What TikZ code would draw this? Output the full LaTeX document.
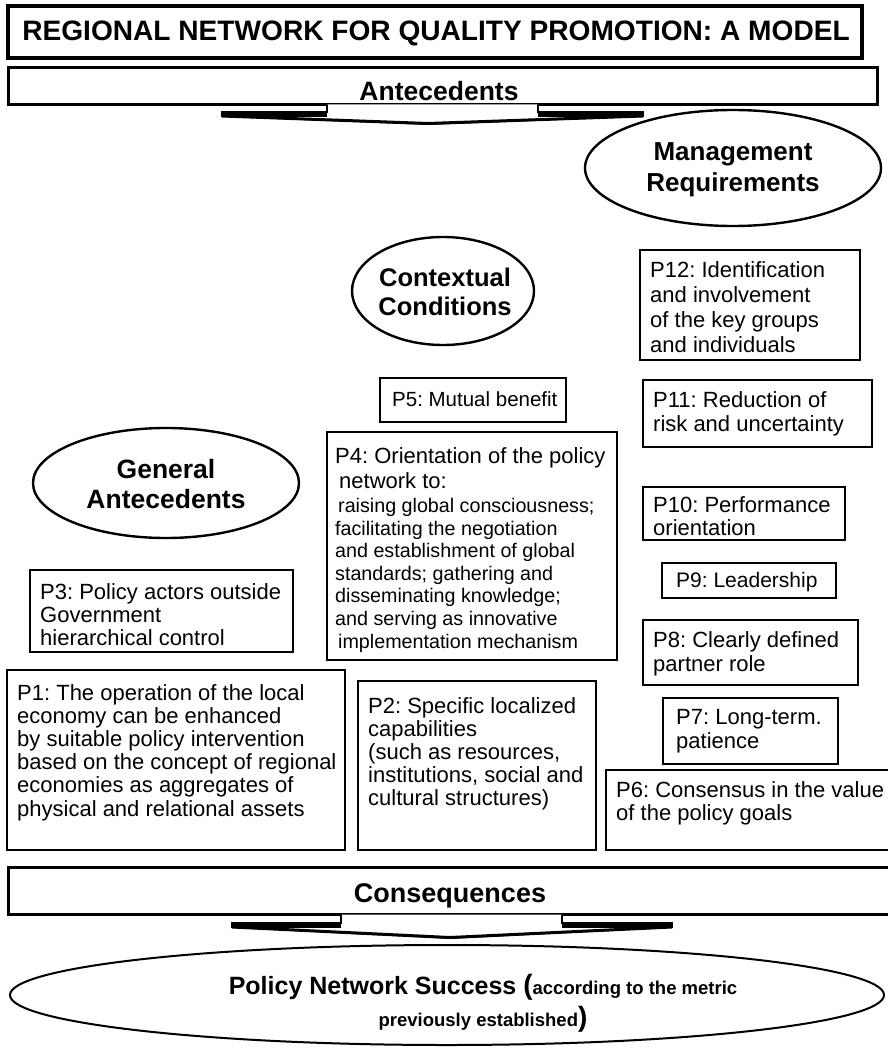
\documentclass[tikz,border=0pt]{standalone}
\usepackage{fontspec}
\setmainfont{Liberation Sans}
\usetikzlibrary{shapes.geometric}
\frenchspacing
\begin{document}
\begin{tikzpicture}[x=1pt,y=-1pt,
  pbox/.style={draw, line width=1.4pt, inner sep=0pt},
  ptext/.style={anchor=north west, inner sep=0pt, align=left, font=\frenchspacing\fontsize{22}{23}\selectfont},
  oval/.style={draw, ellipse, line width=2.4pt, inner sep=0pt},
  ovaltext/.style={align=center, inner sep=0pt, font=\bfseries\fontsize{26}{31}\selectfont},
  bigbox/.style={draw, line width=3pt, inner sep=0pt},
  bandtext/.style={inner sep=0pt, font=\bfseries\fontsize{26.5}{30}\selectfont},
  callout/.style={draw, line width=1.8pt, fill=white, line join=miter}
]
\useasboundingbox (0,0) rectangle (887,1056);

% title
\node[draw, line width=4pt, inner sep=0pt, minimum width=854pt, minimum height=52pt] (title) at (435,32) {};
\node[inner sep=0pt, font=\bfseries\fontsize{28.1}{32}\selectfont] (titletext) at (436,33) {REGIONAL NETWORK FOR QUALITY PROMOTION: A MODEL};

% antecedents band
\node[bigbox, minimum width=869pt, minimum height=37pt] (antebox) at (442.5,86) {};
\node[bandtext] (antetext) at (439,91) {Antecedents};
\draw[callout] (327,104.5) -- (327,112) -- (222,112) -- (222,116) -- (428,124) -- (643,116) -- (643,112) -- (538,112) -- (538,104.5);
\draw[line width=3.5pt] (222,115) -- (327,115) (538,115) -- (643,115);
\draw[line width=3pt] (222,116) -- (428,123.5) -- (643,116);

% ellipses
\node[oval, minimum width=296pt, minimum height=116pt] (mr) at (733,168) {};
\node[ovaltext] (mrtext) at (733,170) {Management\\Requirements};
\node[oval, minimum width=182pt, minimum height=108pt] (cc) at (443,291) {};
\node[ovaltext, font=\bfseries\fontsize{25.5}{29}\selectfont] (cctext) at (445,292) {Contextual\\Conditions};
\node[oval, minimum width=266pt, minimum height=110pt] (ga) at (166,483) {};
\node[ovaltext, font=\bfseries\fontsize{26.5}{30}\selectfont] (gatext) at (166,484) {General\\Antecedents};

% P12
\node[pbox, minimum width=220pt, minimum height=110pt] (p12) at (750,305) {};
\node[ptext, font=\fontsize{22}{25}\selectfont] (p12t) at (650,261) {P12: Identification\\and involvement\\of the key groups\\and individuals};
% P11
\node[pbox, minimum width=229pt, minimum height=67pt] (p11) at (757.5,413.5) {};
\node[ptext, font=\fontsize{22}{24}\selectfont] (p11t) at (653,391) {P11: Reduction of\\risk and uncertainty};
% P5
\node[pbox, minimum width=186pt, minimum height=44pt] (p5) at (473,400) {};
\node[ptext, font=\fontsize{20.5}{23}\selectfont] (p5t) at (392,391) {P5: Mutual benefit};
% P4
\node[pbox, minimum width=290pt, minimum height=228pt] (p4) at (472,546) {};
\node[ptext, font=\fontsize{22}{25}\selectfont] (p4ta) at (335,447) {P4: Orientation of the policy\\\hspace*{4pt}network to:};
\node[ptext, font=\fontsize{19.7}{22.6}\selectfont] (p4tb) at (335,498) {\hspace*{3pt}raising global consciousness;\\facilitating the negotiation\\and establishment of global\\standards; gathering and\\disseminating knowledge;\\and serving as innovative\\\hspace*{3pt}implementation mechanism};
% P3
\node[pbox, minimum width=263pt, minimum height=82pt] (p3) at (161.5,611) {};
\node[ptext, font=\fontsize{22}{23}\selectfont] (p3t) at (40,583) {P3: Policy actors outside\\Government\\hierarchical control};
% P1
\node[pbox, minimum width=338pt, minimum height=180pt] (p1) at (176,760) {};
\node[ptext, font=\fontsize{22}{23.2}\selectfont] (p1t) at (17,684) {P1: The operation of the local\\economy can be enhanced\\by suitable policy intervention\\based on the concept of regional\\economies as aggregates of\\physical and relational assets};
% P2
\node[pbox, minimum width=238pt, minimum height=169pt] (p2) at (477,765.5) {};
\node[ptext, font=\fontsize{22}{23.2}\selectfont] (p2t) at (368,697) {P2: Specific localized\\capabilities\\(such as resources,\\institutions, social and\\cultural structures)};
% P10
\node[pbox, minimum width=202pt, minimum height=53pt] (p10) at (744,513.5) {};
\node[ptext, font=\fontsize{22}{23}\selectfont] (p10t) at (653,496) {P10: Performance\\orientation};
% P9
\node[pbox, minimum width=174pt, minimum height=35pt] (p9) at (749,580.5) {};
\node[ptext, font=\fontsize{21}{23}\selectfont] (p9t) at (676,572) {P9: Leadership};
% P8
\node[pbox, minimum width=215pt, minimum height=65pt] (p8) at (750.5,652.5) {};
\node[ptext, font=\fontsize{22}{24}\selectfont] (p8t) at (653,631) {P8: Clearly defined\\partner role};
% P7
\node[pbox, minimum width=175pt, minimum height=66pt] (p7) at (750.5,731) {};
\node[ptext, font=\fontsize{22}{24}\selectfont] (p7t) at (676,709) {P7: Long-term.\\patience};
% P6
\node[pbox, minimum width=290pt, minimum height=80pt] (p6) at (751,810) {};
\node[ptext, font=\fontsize{22}{23}\selectfont] (p6t) at (616,781) {P6: Consensus in the value\\of the policy goals};

% consequences band
\node[bigbox, minimum width=884pt, minimum height=47pt] (consbox) at (450,891) {};
\node[bandtext, font=\bfseries\fontsize{27}{30}\selectfont] (constext) at (450,896) {Consequences};
\draw[callout] (341,914.5) -- (341,923) -- (232,923) -- (232,927) -- (450,938) -- (672,927) -- (672,923) -- (562,923) -- (562,914.5);
\draw[line width=3.5pt] (232,926) -- (341,926) (562,926) -- (672,926);
\draw[line width=3pt] (232,927) -- (450,937.5) -- (672,927);

% final ellipse
\node[oval, line width=2pt, minimum width=874pt, minimum height=100pt] (pns) at (447,995) {};
\node[align=center, inner sep=0pt, font=\bfseries\fontsize{18.5}{32}\selectfont] (pnstext) at (483,1003) {{\fontsize{25}{32}\selectfont Policy Network Success }{\fontsize{28}{32}\selectfont(}according to the metric\\previously established{\fontsize{28}{32}\selectfont)}};
\end{tikzpicture}
\end{document}
